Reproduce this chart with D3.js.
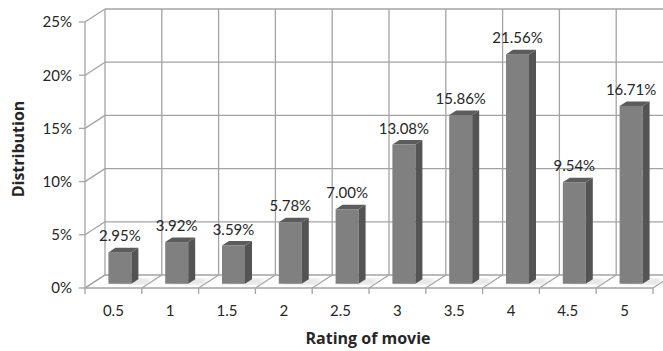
<!DOCTYPE html>
<html><head><meta charset="utf-8">
<script src="https://cdn.jsdelivr.net/npm/d3@7"></script>
<style>body{margin:0;background:#fff}svg{display:block}text{font-family:Lato,"Open Sans",sans-serif;fill:#262626}</style>
</head><body><div id="chart"></div>
<script>
const categories = ["0.5","1","1.5","2","2.5","3","3.5","4","4.5","5"];
const values = [2.95,3.92,3.59,5.78,7.00,13.08,15.86,21.56,9.54,16.71];
const yTicks = [0,5,10,15,20,25];
const xTitle = "Rating of movie";
const yTitle = "Distribution";

const W=663,H=351;
const svg=d3.select("#chart").append("svg").attr("width",W).attr("height",H);
const x0=85,x1=653,yBase=288,yTop=22;
const D={x:20,y:-13};
const x=d3.scaleBand().domain(categories).range([x0,x1]);
const y=d3.scaleLinear().domain([0,25]).range([yBase,yTop]);
const grid="#a3a3a3";
const defs=svg.append("defs");
defs.append("filter").attr("id","blur").append("feGaussianBlur").attr("stdDeviation",2.5);

const g=svg.append("g");
yTicks.forEach(t=>{
  g.append("line").attr("x1",x0+D.x).attr("x2",x1+D.x).attr("y1",y(t)+D.y).attr("y2",y(t)+D.y).attr("stroke",grid).attr("stroke-width",1.3);
  g.append("line").attr("x1",x0).attr("y1",y(t)).attr("x2",x0+D.x).attr("y2",y(t)+D.y).attr("stroke",grid).attr("stroke-width",1.3);
  g.append("line").attr("x1",x0-6).attr("x2",x0).attr("y1",y(t)).attr("y2",y(t)).attr("stroke",grid).attr("stroke-width",1.3);
  g.append("text").attr("x",72).attr("y",y(t)).attr("dy","0.36em").attr("text-anchor","end").attr("font-size",15).text(t+"%");
});
const bounds=categories.map(c=>x(c)).concat([x1]);
bounds.forEach(b=>{
  g.append("line").attr("x1",b+D.x).attr("x2",b+D.x).attr("y1",y(0)+D.y).attr("y2",y(25)+D.y).attr("stroke",grid).attr("stroke-width",1.3);
  g.append("line").attr("x1",b).attr("y1",yBase).attr("x2",b+D.x).attr("y2",yBase+D.y).attr("stroke",grid).attr("stroke-width",1.3);
  g.append("line").attr("x1",b).attr("x2",b).attr("y1",yBase).attr("y2",yBase+6).attr("stroke",grid).attr("stroke-width",1.3);
});
g.append("line").attr("x1",x0).attr("x2",x0).attr("y1",yTop).attr("y2",yBase).attr("stroke",grid).attr("stroke-width",1.3);
g.append("line").attr("x1",x0).attr("x2",x1).attr("y1",yBase).attr("y2",yBase).attr("stroke",grid).attr("stroke-width",1.3);

const bw=x.bandwidth(), barW=23, f0=0.325, f1=0.675;
const bars=g.selectAll("g.bar").data(categories.map((c,i)=>({c,v:values[i]}))).join("g");
bars.each(function(d){
  const s=d3.select(this);
  const xl=x(d.c)+(bw-barW)/2+D.x*f0;
  const yb=yBase+D.y*f0;
  const yt=y(d.v)+D.y*f0;
  const dx=D.x*(f1-f0), dy=D.y*(f1-f0);
  s.append("path").attr("d",`M${xl+2},${yb}L${xl+barW+dx+10},${yb}L${xl+barW+dx+12},${yb+dy}L${xl+dx+2},${yb+dy}Z`).attr("fill","#c8c8c8").attr("filter","url(#blur)").attr("opacity",0.7);
  s.append("rect").attr("x",xl).attr("y",yt).attr("width",barW).attr("height",yb-yt).attr("fill","#808080");
  s.append("path").attr("d",`M${xl+barW},${yt}L${xl+barW+dx},${yt+dy}L${xl+barW+dx},${yb+dy}L${xl+barW},${yb}Z`).attr("fill","#545454");
  s.append("path").attr("d",`M${xl},${yt}L${xl+dx},${yt+dy}L${xl+barW+dx},${yt+dy}L${xl+barW},${yt}Z`).attr("fill","#5c5c5c");
  s.append("text").attr("x",xl+barW/2).attr("y",yt-11).attr("text-anchor","middle").attr("font-size",15).text(d.v.toFixed(2)+"%");
});
categories.forEach(c=>{
  g.append("text").attr("x",x(c)+bw/2).attr("y",316).attr("text-anchor","middle").attr("font-size",15).text(c);
});
g.append("text").attr("x",368).attr("y",344).attr("text-anchor","middle").attr("font-size",16).attr("font-weight","bold").style("font-family","'Open Sans',sans-serif").text(xTitle);
g.append("text").attr("transform","translate(24,149) rotate(-90)").attr("text-anchor","middle").attr("font-size",16).attr("font-weight","bold").style("font-family","'Open Sans',sans-serif").text(yTitle);
</script></body></html>
